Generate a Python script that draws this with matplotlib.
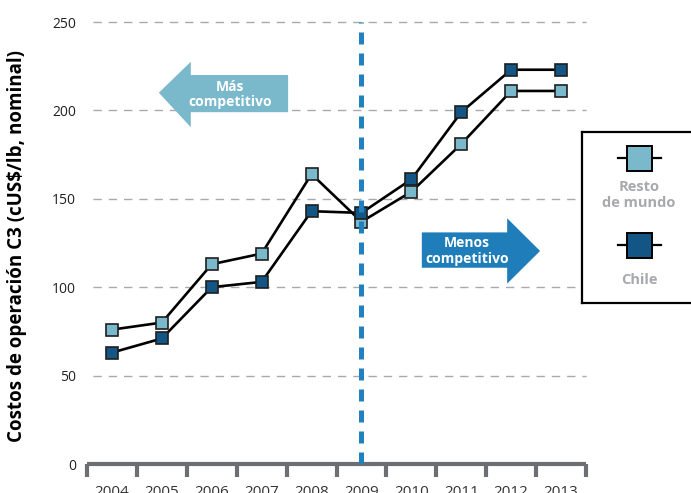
import numpy as np
import matplotlib.pyplot as plt
import matplotlib as mpl
from matplotlib.patches import Polygon
from matplotlib.lines import Line2D

years = ["2004", "2005", "2006", "2007", "2008", "2009", "2010", "2011", "2012", "2013"]
resto_mundo = [76, 80, 113, 119, 164, 137, 154, 181, 211, 211]
chile = [63, 71, 100, 103, 143, 142, 161, 199, 223, 223]
y_ticks = [0, 50, 100, 150, 200, 250]
corte = "2009"

C = dict(light="#79B9CB", dark="#135685", blue="#2180BE", arrow="#1F7EB9",
         axis="#6D6E71", grid="#A7A9AC", legtxt="#A7A9AC", txt="#231F20")

mpl.rcParams.update({"font.family": ["Open Sans", "DejaVu Sans"], "font.size": 10})

fig = plt.figure(figsize=(6.91, 4.93), dpi=100)
W, H = 691, 493
ax = fig.add_axes([87 / W, 1 - 464 / H, (586 - 87) / W, (464 - 22) / H])

x = np.arange(len(years))
ax.set_xlim(-0.5, len(years) - 0.5)
ax.set_ylim(0, 250)

# grid
for v in y_ticks[1:]:
    ax.plot([-0.38, len(years) - 0.5], [v, v], color=C["grid"], lw=1.0,
            dashes=(6, 5), zorder=1, clip_on=False)

ax.plot(x, resto_mundo, color="black", lw=1.9, zorder=3)
ax.plot(x, chile, color="black", lw=1.9, zorder=3)
ax.plot(x, resto_mundo, ls="none", marker="s", ms=8.2, mfc=C["light"],
        mec="#1f1f1f", mew=1.2, zorder=4)
ax.plot(x, chile, ls="none", marker="s", ms=8.2, mfc=C["dark"],
        mec="#1f1f1f", mew=1.2, zorder=4)

# vertical break line
xc = years.index(corte)
ax.plot([xc, xc], [0, 250], color=C["blue"], lw=3.6, dashes=(2.4, 1.8),
        solid_capstyle="butt", dash_capstyle="butt", zorder=5)

# arrows
mas = [(0.94, 210), (1.58, 227.5), (1.58, 220), (3.53, 220),
       (3.53, 199), (1.58, 199), (1.58, 190.5)]
ax.add_patch(Polygon(mas, closed=True, facecolor=C["light"], edgecolor="none", zorder=2))
ax.text(2.37, 209, "Más\ncompetitivo", color="white", fontweight="bold",
        ha="center", va="center", fontsize=10, linespacing=1.1, zorder=3)
menos = [(8.58, 120.5), (7.92, 139), (7.92, 131), (6.21, 131),
         (6.21, 111), (7.92, 111), (7.92, 102)]
ax.add_patch(Polygon(menos, closed=True, facecolor=C["arrow"], edgecolor="none", zorder=2))
ax.text(7.12, 120.5, "Menos\ncompetitivo", color="white", fontweight="bold",
        ha="center", va="center", fontsize=10, linespacing=1.1, zorder=3)

# axes styling
for s in ["top", "right", "left"]:
    ax.spines[s].set_visible(False)
ax.spines["bottom"].set_color(C["axis"])
ax.spines["bottom"].set_linewidth(3.0)
ax.spines["bottom"].set_capstyle("butt")
ax.set_xticks(x)
ax.set_xticklabels(years)
ax.set_xticks(np.arange(-0.5, len(years)), minor=True)
ax.tick_params(axis="x", which="major", length=0, pad=15, labelsize=11, labelcolor="#333333")
ax.tick_params(axis="x", which="minor", length=9.5, width=3.0, color=C["axis"], direction="out")
ax.set_yticks(y_ticks)
ax.tick_params(axis="y", length=0, pad=8, labelsize=10, labelcolor=C["txt"])
ax.set_ylabel("Costos de operación C3 (cUS$/lb, nominal)", fontweight="bold",
              fontsize=13.5, color="black", va="center")
ax.yaxis.set_label_coords(-0.140, 0.494)

# legend box
lg = fig.add_axes([582 / W, 1 - 303 / H, 114 / W, (303 - 132) / H])
lg.set_xlim(0, 1)
lg.set_ylim(0, 1)
lg.set_xticks([])
lg.set_yticks([])
for s in lg.spines.values():
    s.set_linewidth(1.6)
    s.set_color("black")
for ym, yt, col, lab in [(0.848, 0.632, C["light"], "Resto\nde mundo"),
                         (0.339, 0.135, C["dark"], "Chile")]:
    lg.add_line(Line2D([0.316, 0.693], [ym, ym], color="black", lw=1.6))
    lg.plot([0.5], [ym], marker="s", ms=18, mfc=col, mec="black", mew=1.4)
    lg.text(0.5, yt, lab, ha="center", va="center", color=C["legtxt"],
            fontweight="bold", fontsize=10.5, linespacing=1.15)

fig.savefig("out.png", dpi=100, facecolor="white")
